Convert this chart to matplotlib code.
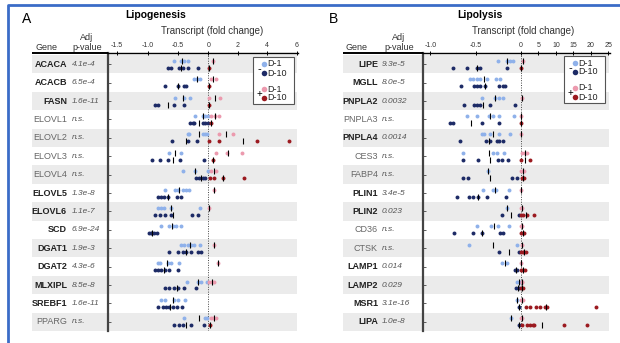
import numpy as np
import matplotlib.pyplot as plt
import matplotlib.transforms as mtransforms
from matplotlib.patches import Rectangle

plt.rcParams['font.family'] = ['Liberation Sans', 'DejaVu Sans']

W, H = 620, 343

# ---- A: lipogenesis ----
genes_a = ["ACACA", "ACACB", "FASN", "ELOVL1", "ELOVL2", "ELOVL3", "ELOVL4", "ELOVL5",
           "ELOVL6", "SCD", "DGAT1", "DGAT2", "MLXIPL", "SREBF1", "PPARG"]
pvals_a = ["4.1e-4", "6.5e-4", "1.6e-11", "n.s.", "n.s.", "n.s.", "n.s.", "1.3e-8",
           "1.1e-7", "6.9e-24", "1.9e-3", "4.3e-6", "8.5e-8", "1.6e-11", "n.s."]
minus_d1_a = [
    [-0.57, -0.45, -0.40, -0.33],
    [-0.23, -0.18, -0.13],
    [-0.55, -0.40, -0.30],
    [-0.22, -0.08, -0.05, 0.0],
    [-0.33, -0.32, -0.08, -0.05, -0.02],
    [-0.65, -0.45],
    [-0.42, -0.22, 0.0],
    [-0.72, -0.55, -0.50, -0.42, -0.37, -0.32],
    [-0.83, -0.78, -0.73, -0.62, -0.13],
    [-0.78, -0.65, -0.58, -0.53, -0.45],
    [-0.45, -0.40, -0.33, -0.28, -0.23, -0.13],
    [-0.83, -0.80, -0.67, -0.62, -0.48],
    [-0.35, -0.17, -0.12, -0.02],
    [-0.77, -0.72, -0.57, -0.50, -0.38],
    [-0.40, -0.05, -0.02],
]
minus_d10_a = [
    [-0.67, -0.62, -0.48, -0.42, -0.33, -0.17],
    [-0.72, -0.50, -0.40, -0.37],
    [-0.88, -0.83, -0.57, -0.40],
    [-0.30, -0.25, -0.23, -0.08, -0.05, 0.0],
    [-0.60, -0.33, -0.18],
    [-0.93, -0.80, -0.67, -0.47, -0.07],
    [-0.20, -0.15, -0.08, -0.05],
    [-0.83, -0.78, -0.73, -0.67, -0.52, -0.45],
    [-0.88, -0.80, -0.72, -0.62, -0.27, -0.17],
    [-0.98, -0.95, -0.92, -0.90, -0.85],
    [-0.65, -0.50, -0.42, -0.37, -0.28, -0.17, -0.12],
    [-0.87, -0.83, -0.77, -0.72, -0.65, -0.50],
    [-0.72, -0.65, -0.57, -0.50, -0.40, -0.20],
    [-0.82, -0.75, -0.70, -0.65, -0.58, -0.52, -0.43],
    [-0.57, -0.48, -0.42, -0.28, -0.07],
]
plus_d1_a = [[0.34], [0.2, 0.5], [0.07, 0.83], [0.2, 0.45, 0.7], [0.7, 1.7],
             [0.55, 1.24, 2.3], [0.2, 0.55], [0.41], [0.07], [], [0.41], [0.69],
             [0.07, 0.25, 0.41], [], [0.2, 0.35, 0.55]]
plus_d10_a = [[0.07], [0.05], [0.05], [0.2], [0.07, 0.7, 3.3, 5.5], [0.3],
              [0.14, 0.4, 1.0, 2.4], [], [], [], [], [], [], [], [0.14]]

# ---- B: lipolysis ----
genes_b = ["LIPE", "MGLL", "PNPLA2", "PNPLA3", "PNPLA4", "CES3", "FABP4", "PLIN1",
           "PLIN2", "CD36", "CTSK", "LAMP1", "LAMP2", "MSR1", "LIPA"]
pvals_b = ["9.3e-5", "8.0e-5", "0.0032", "n.s.", "0.0014", "n.s.", "n.s.", "3.4e-5",
           "0.023", "n.s.", "n.s.", "0.014", "0.029", "3.1e-16", "1.0e-8"]
minus_d1_b = [
    [-0.25, -0.15, -0.12, -0.09],
    [-0.56, -0.53, -0.48, -0.45, -0.37, -0.27, -0.23],
    [-0.43, -0.29, -0.24, -0.20],
    [-0.59, -0.48, -0.35, -0.31, -0.24, -0.08],
    [-0.43, -0.41, -0.34, -0.24, -0.12],
    [-0.64, -0.31, -0.26, -0.19],
    [-0.36],
    [-0.42, -0.31, -0.27, -0.13],
    [-0.15],
    [-0.48, -0.33, -0.25, -0.13],
    [-0.57, -0.04],
    [-0.21, -0.15],
    [-0.04, -0.01],
    [-0.04],
    [-0.11],
]
minus_d10_b = [
    [-0.75, -0.59, -0.48, -0.45, -0.15],
    [-0.66, -0.52, -0.48, -0.45, -0.40, -0.24, -0.20, -0.18],
    [-0.63, -0.52, -0.48, -0.45, -0.34, -0.07],
    [-0.78, -0.75, -0.43, -0.24],
    [-0.67, -0.38, -0.34, -0.26, -0.24, -0.20],
    [-0.64, -0.47, -0.25, -0.21, -0.14],
    [-0.64, -0.58, -0.10, -0.04],
    [-0.71, -0.57, -0.53, -0.47, -0.37, -0.16],
    [-0.21, -0.02],
    [-0.74, -0.53, -0.43, -0.23, -0.20],
    [-0.24, -0.02],
    [-0.07, -0.04],
    [-0.05, -0.02],
    [-0.02],
    [-0.02],
]
plus_d1_b = [[0.6], [], [0.3], [0.1], [0.05], [0.3, 1.1, 1.7], [0.1, 0.9], [0.1],
             [0.1, 0.4], [0.1, 0.3], [0.3], [0.1], [0.2, 0.4], [0.1, 0.6], [0.1, 0.3]]
plus_d10_b = [[0.1], [], [], [0.1], [], [0.0, 2.6], [0.3, 0.7, 0.9], [],
              [0.0, 0.6, 1.7, 3.7], [0.0, 0.6, 0.9], [0.0, 0.6, 1.0, 1.5],
              [0.0, 0.5, 1.1], [0.1, 0.6], [1.4, 2.6, 4.3, 5.4, 6.9, 7.4, 21.4],
              [0.3, 1.7, 2.6, 3.4, 3.7, 12.3, 18.9]]

ticks_a = [-1.5, -1.0, -0.5, 0, 2, 4, 6]
ticklabels_a = ["-1.5", "-1.0", "-0.5", "0", "2", "4", "6"]
ticks_b = [-1.0, -0.5, 0, 5, 10, 15, 20, 25]
ticklabels_b = ["-1.0", "-0.5", "0", "5", "10", "15", "20", "25"]

C_M1, C_M10 = "#8fb1ea", "#1d2b66"
C_P1, C_P10 = "#ec9aae", "#9b1a20"
BAND = "#ebebeb"
OFF = 0.19

fig = plt.figure(figsize=(W / 100, H / 100), dpi=100)
over = fig.add_axes([0, 0, 1, 1])
over.set_xlim(0, W)
over.set_ylim(H, 0)
over.axis("off")
over.set_zorder(5)


def draw_panel(ax, genes, pvals, m1, m10, p1, p10, ticks, ticklabels, ratio, xlim,
               gene_px, p_px, band_x0):
    n = len(genes)
    ax.set_xscale("function", functions=(lambda x: np.where(x < 0, x, x * ratio),
                                         lambda x: np.where(x < 0, x, x / ratio)))
    ax.set_xlim(*xlim)
    ax.set_ylim(n - 0.5, -0.61)
    for i in range(0, n, 2):
        ax.axhspan(i - 0.5, i + 0.5, xmin=band_x0, xmax=0.993, color=BAND, lw=0,
                   zorder=0, clip_on=False)
    ax.axvline(0, color="#444444", ls=(0, (1, 1.5)), lw=0.7, zorder=1)
    for i in range(n):
        for vals, dy, col in ((m1[i], -OFF, C_M1), (m10[i], OFF, C_M10),
                              (p1[i], -OFF, C_P1), (p10[i], OFF, C_P10)):
            if not vals:
                continue
            ax.scatter(vals, [i + dy] * len(vals), s=8, color=col, lw=0, zorder=3)
            ax.scatter([np.mean(vals)], [i + dy], marker="|", s=14, color="black",
                       lw=0.8, zorder=4)
    ax.xaxis.set_ticks_position("top")
    ax.set_xticks(ticks)
    ax.set_xticklabels(ticklabels)
    ax.tick_params(axis="x", labelsize=5, labelcolor="#333333", length=3,
                   direction="inout", width=0.7, pad=1.5)
    ax.set_yticks(range(n))
    ax.tick_params(axis="y", labelleft=False, direction="in", length=2.5, width=0.6,
                   color="#444444")
    for s in ("right", "bottom"):
        ax.spines[s].set_visible(False)
    ax.spines["left"].set_linewidth(1.6)
    ax.spines["left"].set_color("#444444")
    ax.spines["top"].set_linewidth(1.0)

    tr = mtransforms.blended_transform_factory(over.transData, ax.transData)
    for i, (g, p) in enumerate(zip(genes, pvals)):
        sig = p != "n.s."
        ax.text(gene_px, i, g, transform=tr, ha="right", va="center", fontsize=6.5,
                fontweight="bold" if sig else "normal",
                color="#222222" if sig else "#666666", clip_on=False)
        ax.text(p_px, i, p, transform=tr, ha="left", va="center", fontsize=6,
                style="italic", color="#555555", clip_on=False)


def draw_key(x0, y0):
    over.add_patch(Rectangle((x0, y0), 41, 47, facecolor="white", edgecolor="#555555",
                             lw=0.8))
    rows = [(7, C_M1, "D-1"), (16, C_M10, "D-10"), (32, C_P1, "D-1"), (41, C_P10, "D-10")]
    for dy, col, lab in rows:
        over.scatter([x0 + 11], [y0 + dy], s=16, color=col, lw=0)
        over.text(x0 + 14, y0 + dy, lab, fontsize=6.5, va="center", ha="left",
                  color="#222222")
    over.text(x0 + 6, y0 + 12, "-", fontsize=8, ha="center", va="center")
    over.text(x0 + 6, y0 + 37, "+", fontsize=7, ha="center", va="center")


ax_a = fig.add_axes([108 / W, 12 / H, 190 / W, 278 / H])
draw_panel(ax_a, genes_a, pvals_a, minus_d1_a, minus_d10_a, plus_d1_a, plus_d10_a,
           ticks_a, ticklabels_a, 0.242, (-1.65, 6.1), 67, 72, -0.4)
ax_b = fig.add_axes([423 / W, 12 / H, 187 / W, 278 / H])
draw_panel(ax_b, genes_b, pvals_b, minus_d1_b, minus_d10_b, plus_d1_b, plus_d10_b,
           ticks_b, ticklabels_b, 0.0385, (-1.08, 25.5), 378, 382, -0.43)

# headers
for letter, lx, title, tx, xl_x, gx, px, line_x in (
        ("A", 27, "Lipogenesis", 156, 212, 47, 87, (32, 108)),
        ("B", 333, "Lipolysis", 480, 523, 357, 399, (343, 423))):
    over.text(lx, 19, letter, fontsize=10, ha="center", va="center")
    over.text(tx, 15, title, fontsize=7.5, fontweight="bold", ha="center", va="center")
    over.text(xl_x, 31, "Transcript (fold change)", fontsize=7, ha="center",
              va="center", color="#333333")
    over.text(gx, 47, "Gene", fontsize=6.5, ha="center", va="center", color="#333333")
    over.text(px, 37, "Adj", fontsize=6.5, ha="center", va="center", color="#333333")
    over.text(px, 47, "p-value", fontsize=6.5, ha="center", va="center", color="#333333")
    over.plot(line_x, [53, 53], color="black", lw=1.4, solid_capstyle="butt")

draw_key(253, 57)
draw_key(564, 56)

# frame
over.plot([8, 8, W], [H, 5, 5], color="#3b6cc7", lw=2)

fig.savefig("out.png", dpi=100)
